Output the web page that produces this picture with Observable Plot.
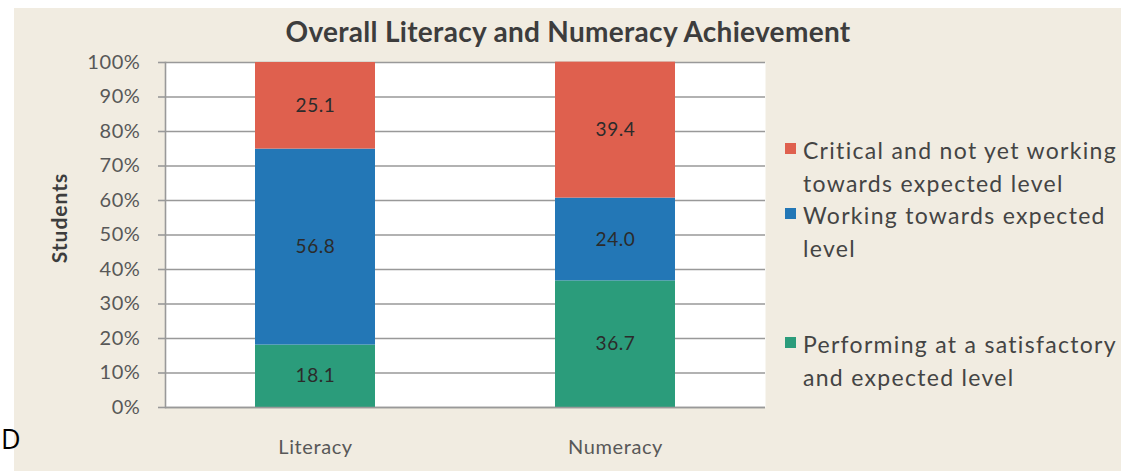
<!DOCTYPE html>
<html>
<head>
<meta charset="utf-8">
<script src="https://cdn.jsdelivr.net/npm/d3@7"></script>
<script src="https://cdn.jsdelivr.net/npm/@observablehq/plot@0.6"></script>
<style>
  html, body { margin: 0; padding: 0; background: #ffffff; }
  #wrap { position: relative; width: 1130px; height: 471px; overflow: hidden; font-family: Lato, "Open Sans", sans-serif; }
  #paper { position: absolute; left: 14px; top: 8px; width: 1107px; height: 463px; background: #f1ece1; }
  #chart { position: absolute; left: 0; top: 0; }
  #chart svg text { letter-spacing: 0.6px; }
  #title { position: absolute; left: 0; width: 1136px; top: 14px; text-align: center; font-size: 28px; font-weight: bold; color: #3d3d3d; letter-spacing: 0.3px; }
  #ylab { position: absolute; left: 58px; top: 218px; transform: translate(-50%, -50%) rotate(-90deg); font-size: 21px; font-weight: bold; color: #3d3d3d; white-space: nowrap; letter-spacing: 1px; }
  #legend { position: absolute; left: 785px; top: 134px; font-size: 23px; color: #444; letter-spacing: 1.3px; }
  .item { position: absolute; left: 0; width: 360px; }
  .sw { position: absolute; left: 0; top: 9px; width: 11px; height: 11px; }
  .txt { position: absolute; left: 18px; top: 0; line-height: 33px; white-space: nowrap; }
  #stray { position: absolute; left: 1px; top: 420px; font-family: "Open Sans", sans-serif; font-size: 27px; color: #000; }
</style>
</head>
<body>
<div id="wrap">
  <div id="paper"></div>
  <div id="chart"></div>
  <div id="title"></div>
  <div id="ylab"></div>
  <div id="legend"></div>
  <div id="stray">D</div>
</div>
<script>
const title = "Overall Literacy and Numeracy Achievement";
const yLabel = "Students";
const subjects = ["Literacy", "Numeracy"];
const levels = [
  "Performing at a satisfactory and expected level",
  "Working towards expected level",
  "Critical and not yet working towards expected level"
];
const legendLines = [
  ["Critical and not yet working", "towards expected level"],
  ["Working towards expected", "level"],
  ["Performing at a satisfactory", "and expected level"]
];
const colors = ["#2b9c7b", "#2377b6", "#df604e"];
const literacyValues = [18.1, 56.8, 25.1];
const numeracyValues = [36.7, 24.0, 39.4];
const yTicks = [0, 10, 20, 30, 40, 50, 60, 70, 80, 90, 100];

const seriesBySubject = {Literacy: literacyValues, Numeracy: numeracyValues};
const data = [];
for (const s of subjects) {
  seriesBySubject[s].forEach((v, i) => data.push({subject: s, level: levels[i], value: v}));
}

const chart = Plot.plot({
  width: 1130,
  height: 471,
  marginLeft: 165,
  marginRight: 365,
  marginTop: 62,
  marginBottom: 64,
  style: {background: "transparent", fontFamily: "Lato, 'Open Sans', sans-serif"},
  x: {domain: subjects, paddingInner: 0.6, paddingOuter: 0.3},
  y: {domain: [0, 100]},
  color: {domain: levels, range: colors},
  marks: [
    Plot.frame({fill: "white", stroke: null}),
    Plot.gridY(yTicks, {stroke: "#999", strokeOpacity: 1, strokeWidth: 1.6}),
    Plot.axisY(yTicks, {tickSize: 7, tickPadding: 18, stroke: "#999", strokeWidth: 1.6, tickFormat: d => d + "%", fontSize: 20, color: "#585858", label: null}),
    Plot.frame({anchor: "left", stroke: "#999", strokeWidth: 1.6}),
    Plot.barY(data, {x: "subject", y: "value", fill: "level", z: "level", order: levels}),
    Plot.text(data, Plot.stackY({x: "subject", y: "value", z: "level", order: levels, text: d => d.value.toFixed(1), fontSize: 19, fill: "#2b2b2b"})),
    Plot.axisX({tickSize: 0, tickPadding: 32, fontSize: 20, color: "#585858", label: null}),
    Plot.ruleY([0], {stroke: "#999", strokeWidth: 1.6})
  ]
});
document.getElementById("chart").appendChild(chart);
document.getElementById("title").textContent = title;
document.getElementById("ylab").textContent = yLabel;

const legend = document.getElementById("legend");
const legendTops = [0, 65, 194];
const legendColors = [colors[2], colors[1], colors[0]];
legendLines.forEach((lines, i) => {
  const item = document.createElement("div");
  item.className = "item";
  item.style.top = legendTops[i] + "px";
  const sw = document.createElement("div");
  sw.className = "sw";
  sw.style.background = legendColors[i];
  item.appendChild(sw);
  const t = document.createElement("div");
  t.className = "txt";
  t.innerHTML = lines.join("<br>");
  item.appendChild(t);
  legend.appendChild(item);
});
</script>
</body>
</html>
